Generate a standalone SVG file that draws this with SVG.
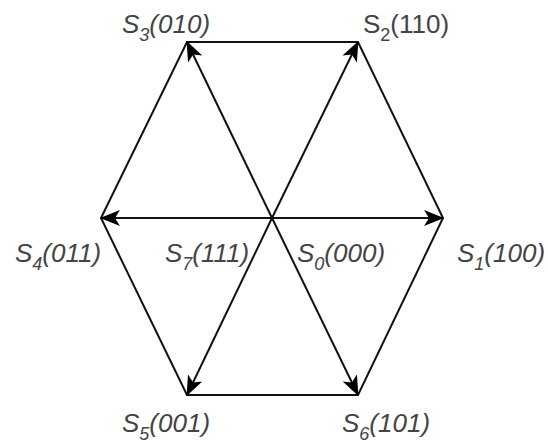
<svg xmlns="http://www.w3.org/2000/svg" width="548" height="446" viewBox="0 0 548 446">
<defs>
<marker id="ah" viewBox="0 0 20 16" refX="19" refY="8" markerWidth="20" markerHeight="16" markerUnits="userSpaceOnUse" orient="auto">
<path d="M0,0 L20,8 L0,16 L5,8 Z" fill="#000"/>
</marker>
<style>
.e{fill:none;stroke:#111;stroke-width:2}
.a{fill:none;stroke:#111;stroke-width:2;marker-end:url(#ah)}
.t{font-family:"Liberation Sans",Arial,sans-serif;font-size:26px;fill:#444;font-style:italic}
.r{font-style:normal}
.s{font-size:18px}
</style>
</defs>
<rect width="548" height="446" fill="#fff"/>
<g id="connectors">
<polygon class="e" points="101,218 187,42 358,42 443,218 358,395 187,395"/>
<line class="a" x1="272" y1="218" x2="443" y2="218"/>
<line class="a" x1="272" y1="218" x2="358" y2="42"/>
<line class="a" x1="272" y1="218" x2="187" y2="42"/>
<line class="a" x1="272" y1="218" x2="101" y2="218"/>
<line class="a" x1="272" y1="218" x2="187" y2="395"/>
<line class="a" x1="272" y1="218" x2="358" y2="395"/>
</g>
<g id="s3"><text class="t" x="122" y="33">S<tspan class="s" dy="8">3</tspan><tspan dy="-8">(010)</tspan></text></g>
<g id="s2"><text class="t r" x="363" y="33">S<tspan class="s" dy="8">2</tspan><tspan dy="-8">(110)</tspan></text></g>
<g id="s4"><text class="t" x="15" y="262">S<tspan class="s" dy="8">4</tspan><tspan dy="-8">(011)</tspan></text></g>
<g id="s7"><text class="t" x="165" y="262">S<tspan class="s" dy="8">7</tspan><tspan dy="-8">(111)</tspan></text></g>
<g id="s0"><text class="t" x="297" y="262">S<tspan class="s" dy="8">0</tspan><tspan dy="-8">(000)</tspan></text></g>
<g id="s1"><text class="t" x="457" y="262">S<tspan class="s" dy="8">1</tspan><tspan dy="-8">(100)</tspan></text></g>
<g id="s5"><text class="t" x="122" y="432">S<tspan class="s" dy="8">5</tspan><tspan dy="-8">(001)</tspan></text></g>
<g id="s6"><text class="t" x="342" y="432">S<tspan class="s" dy="8">6</tspan><tspan dy="-8">(101)</tspan></text></g>
</svg>
